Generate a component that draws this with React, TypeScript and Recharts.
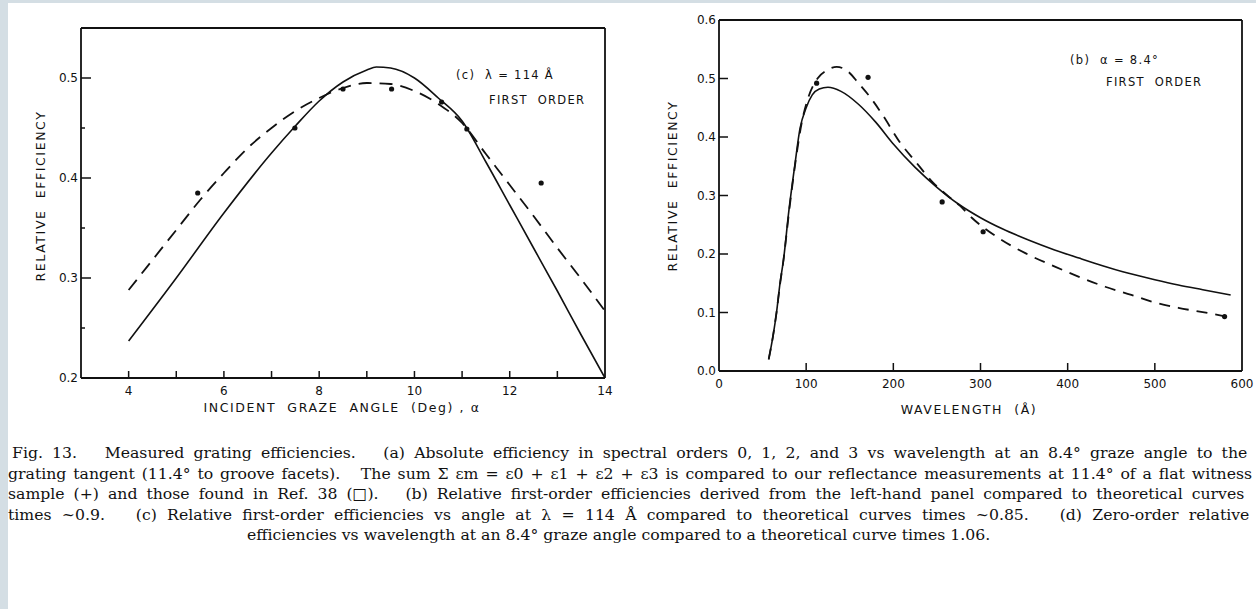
import React from 'react';
import { ComposedChart, Line, Scatter, XAxis, YAxis } from 'recharts';

// panel (c): relative efficiency vs incident graze angle, lambda = 114 A
const angleTicks = [4, 5, 6, 7, 8, 9, 10, 11, 12, 13, 14];
const angleLabels = [4, 6, 8, 10, 12, 14];
const angleEffTicks = [0.2, 0.25, 0.3, 0.35, 0.4, 0.45, 0.5];
const angleEffLabels = [0.2, 0.3, 0.4, 0.5];

const angleSolidX = [4, 5, 6, 7, 7.5, 8, 8.5, 9, 9.2, 9.5, 10, 10.5, 11, 11.5, 12, 12.5, 13, 13.5, 14];
const angleSolidY = [0.237, 0.3, 0.365, 0.425, 0.452, 0.477, 0.496, 0.508, 0.511, 0.51, 0.5, 0.48, 0.457, 0.416, 0.373, 0.33, 0.287, 0.243, 0.2];

const angleDashX = [4, 5, 5.5, 6, 6.5, 7, 7.5, 8, 8.5, 9, 9.5, 10, 10.5, 11, 11.5, 12, 12.5, 13, 13.5, 14];
const angleDashY = [0.288, 0.348, 0.378, 0.405, 0.43, 0.45, 0.467, 0.48, 0.49, 0.495, 0.494, 0.487, 0.474, 0.455, 0.424, 0.393, 0.362, 0.33, 0.299, 0.267];

const anglePointX = [5.45, 7.49, 8.5, 9.52, 10.57, 11.1, 12.66];
const anglePointY = [0.385, 0.45, 0.489, 0.489, 0.476, 0.449, 0.395];

// panel (b): relative efficiency vs wavelength, alpha = 8.4 deg
const waveTicks = [0, 100, 200, 300, 400, 500, 600];
const waveEffTicks = [0, 0.1, 0.2, 0.3, 0.4, 0.5, 0.6];

const waveSolidX = [57, 62, 66, 70, 74, 80, 87, 93, 100, 107, 115, 125, 140, 160, 180, 200, 225, 250, 275, 300, 325, 355, 385, 413, 440, 470, 500, 527, 555, 587];
const waveSolidY = [0.02, 0.06, 0.1, 0.15, 0.19, 0.272, 0.352, 0.415, 0.45, 0.472, 0.482, 0.485, 0.478, 0.456, 0.425, 0.388, 0.348, 0.314, 0.285, 0.262, 0.243, 0.224, 0.207, 0.193, 0.18, 0.167, 0.156, 0.147, 0.139, 0.13];

const waveDashX = [57, 62, 66, 70, 74, 81, 88, 95, 103, 113, 125, 135, 148, 160, 175, 188, 207, 226, 245, 262, 276, 290, 321, 352, 386, 413, 443, 473, 500, 527, 561, 585];
const waveDashY = [0.02, 0.06, 0.1, 0.148, 0.19, 0.28, 0.36, 0.425, 0.47, 0.5, 0.515, 0.52, 0.512, 0.492, 0.465, 0.437, 0.392, 0.357, 0.323, 0.3, 0.283, 0.262, 0.227, 0.201, 0.178, 0.161, 0.144, 0.13, 0.117, 0.108, 0.099, 0.092];

const wavePointX = [112, 171, 256, 303, 580];
const wavePointY = [0.492, 0.502, 0.289, 0.238, 0.093];

const captionLines = [
  'Fig. 13.   Measured grating efficiencies.   (a) Absolute efficiency in spectral orders 0, 1, 2, and 3 vs wavelength at an 8.4° graze angle to the',
  'grating tangent (11.4° to groove facets).   The sum Σ εm = ε0 + ε1 + ε2 + ε3 is compared to our reflectance measurements at 11.4° of a flat witness',
  'sample (+) and those found in Ref. 38 (□).   (b) Relative first-order efficiencies derived from the left-hand panel compared to theoretical curves',
  'times ~0.9.   (c) Relative first-order efficiencies vs angle at λ = 114 Å compared to theoretical curves times ~0.85.   (d) Zero-order relative',
  'efficiencies vs wavelength at an 8.4° graze angle compared to a theoretical curve times 1.06.',
];
// the scanned caption is justified, so the full lines get wider word gaps
const captionWordGap = [4.2, 1.9, 4.0, 5.3, 0];

const zip = (xs: number[], ys: number[]) => xs.map((x, i) => ({ x, y: ys[i] }));

const ink = '#111';
const tickFont = { fontFamily: '"DejaVu Sans", sans-serif', fontSize: 12, fill: ink };
const has = (list: number[], v: number) => list.some(l => Math.abs(l - v) < 1e-9);

const leftTick = (labels: number[], major: number, minor: number) => (p: any) => {
  const v = p.payload.value;
  const lab = has(labels, v);
  return (
    <g>
      <line x1={p.x} x2={p.x + (lab ? major : minor)} y1={p.y} y2={p.y} stroke={ink} strokeWidth={1.5} />
      {lab && (
        <text x={p.x - 3} y={p.y + 4} textAnchor="end" {...tickFont}>
          {v.toFixed(1)}
        </text>
      )}
    </g>
  );
};

const rightTick = (len: number, skip: number[]) => (p: any) =>
  has(skip, p.payload.value) ? <g /> : (
    <line x1={p.x} x2={p.x - len} y1={p.y} y2={p.y} stroke={ink} strokeWidth={1.5} />
  );

const bottomTick = (labels: number[], len: number, skip: number[]) => (p: any) => {
  const v = p.payload.value;
  return (
    <g>
      {!has(skip, v) && <line x1={p.x} x2={p.x} y1={p.y} y2={p.y - len} stroke={ink} strokeWidth={1.5} />}
      {has(labels, v) && (
        <text x={p.x} y={p.y + 17} textAnchor="middle" {...tickFont}>
          {v}
        </text>
      )}
    </g>
  );
};

const topTick = (len: number, skip: number[]) => (p: any) =>
  has(skip, p.payload.value) ? <g /> : (
    <line x1={p.x} x2={p.x} y1={p.y} y2={p.y + len} stroke={ink} strokeWidth={1.5} />
  );

const dot = (p: any) => <circle cx={p.cx} cy={p.cy} r={2.6} fill={ink} />;

const axisLine = { stroke: ink, strokeWidth: 1.8 };

const labelStyle: React.CSSProperties = {
  position: 'absolute',
  fontFamily: '"DejaVu Sans", sans-serif',
  fontSize: 12.5,
  letterSpacing: 1.6,
  color: ink,
  whiteSpace: 'pre',
  lineHeight: 1,
};

const noteStyle: React.CSSProperties = { ...labelStyle, fontSize: 11.5, letterSpacing: 1.3 };

export default function App() {
  return (
    <div
      style={{
        position: 'fixed',
        left: 0,
        top: 0,
        width: 1256,
        height: 609,
        overflow: 'hidden',
        background: '#fff',
      }}
    >
      <div style={{ position: 'absolute', left: 0, top: 0, width: 8, height: 609, background: '#d4dee4' }} />
      <div style={{ position: 'absolute', left: 0, top: 0, width: 1256, height: 3, background: '#d4dee4' }} />

      {/* panel (c) */}
      <div style={{ position: 'absolute', left: 0, top: 0 }}>
        <ComposedChart width={640} height={430} margin={{ top: 18, right: 25, bottom: 22, left: 41 }}>
          <XAxis
            xAxisId="b" type="number" dataKey="x" domain={[3, 14]} ticks={angleTicks} interval={0}
            height={30} tickSize={0} tickMargin={0} tickLine={false} axisLine={axisLine}
            tick={bottomTick(angleLabels, 7, [14])} allowDataOverflow
          />
          <XAxis
            xAxisId="t" orientation="top" type="number" domain={[3, 14]} ticks={angleTicks.slice(0, -1)} interval={0}
            height={10} tickSize={0} tickMargin={0} tickLine={false} axisLine={axisLine} tick={topTick(7, [])}
          />
          <YAxis
            yAxisId="l" type="number" dataKey="y" domain={[0.2, 0.55]} ticks={angleEffTicks} interval={0}
            width={40} tickSize={0} tickMargin={0} tickLine={false} axisLine={axisLine}
            tick={leftTick(angleEffLabels, 10, 4)} allowDataOverflow
          />
          <YAxis
            yAxisId="r" orientation="right" type="number" domain={[0.2, 0.55]} ticks={angleEffTicks} interval={0}
            width={10} tickSize={0} tickMargin={0} tickLine={false} axisLine={axisLine} tick={rightTick(7, [0.2])}
          />
          <Line
            xAxisId="b" yAxisId="l" data={zip(angleSolidX, angleSolidY)} dataKey="y" type="monotone"
            stroke={ink} strokeWidth={1.6} dot={false} isAnimationActive={false}
          />
          <Line
            xAxisId="b" yAxisId="l" data={zip(angleDashX, angleDashY)} dataKey="y" type="monotone"
            stroke={ink} strokeWidth={1.8} strokeDasharray="13 8" dot={false} isAnimationActive={false}
          />
          <Scatter
            xAxisId="b" yAxisId="l" data={zip(anglePointX, anglePointY)} dataKey="y"
            shape={dot} isAnimationActive={false}
          />
        </ComposedChart>
      </div>

      {/* panel (b) */}
      <div style={{ position: 'absolute', left: 640, top: 0 }}>
        <ComposedChart width={616} height={430} margin={{ top: 10, right: 4, bottom: 29, left: 39 }}>
          <XAxis
            xAxisId="b" type="number" dataKey="x" domain={[0, 600]} ticks={waveTicks} interval={0}
            height={30} tickSize={0} tickMargin={0} tickLine={false} axisLine={axisLine}
            tick={bottomTick(waveTicks, 8, [0, 600])} allowDataOverflow
          />
          <XAxis
            xAxisId="t" orientation="top" type="number" domain={[0, 600]} ticks={waveTicks} interval={0}
            height={10} tickSize={0} tickMargin={0} tickLine={false} axisLine={axisLine} tick={topTick(8, [0, 600])}
          />
          <YAxis
            yAxisId="l" type="number" dataKey="y" domain={[0, 0.6]} ticks={waveEffTicks} interval={0}
            width={40} tickSize={0} tickMargin={0} tickLine={false} axisLine={axisLine}
            tick={leftTick(waveEffTicks, 9, 9)} allowDataOverflow
          />
          <YAxis
            yAxisId="r" orientation="right" type="number" domain={[0, 0.6]} ticks={waveEffTicks} interval={0}
            width={10} tickSize={0} tickMargin={0} tickLine={false} axisLine={axisLine} tick={rightTick(7, [0, 0.6])}
          />
          <Line
            xAxisId="b" yAxisId="l" data={zip(waveSolidX, waveSolidY)} dataKey="y" type="monotone"
            stroke={ink} strokeWidth={1.6} dot={false} isAnimationActive={false}
          />
          <Line
            xAxisId="b" yAxisId="l" data={zip(waveDashX, waveDashY)} dataKey="y" type="monotone"
            stroke={ink} strokeWidth={1.8} strokeDasharray="11 8" dot={false} isAnimationActive={false}
          />
          <Scatter
            xAxisId="b" yAxisId="l" data={zip(wavePointX, wavePointY)} dataKey="y"
            shape={dot} isAnimationActive={false}
          />
        </ComposedChart>
      </div>

      {/* axis titles and annotations */}
      <div style={{ ...labelStyle, left: 342, top: 402, transform: 'translateX(-50%)' }}>
        {'INCIDENT  GRAZE  ANGLE  (Deg) , α'}
      </div>
      <div style={{ ...labelStyle, left: 41, top: 196, transform: 'translate(-50%, -50%) rotate(-90deg)' }}>
        {'RELATIVE  EFFICIENCY'}
      </div>
      <div style={{ ...noteStyle, left: 456, top: 70 }}>{'(c)  λ = 114 Å'}</div>
      <div style={{ ...noteStyle, left: 489, top: 95 }}>{'FIRST  ORDER'}</div>

      <div style={{ ...labelStyle, left: 969, top: 404, transform: 'translateX(-50%)' }}>
        {'WAVELENGTH  (Å)'}
      </div>
      <div style={{ ...labelStyle, left: 673, top: 186, transform: 'translate(-50%, -50%) rotate(-90deg)' }}>
        {'RELATIVE  EFFICIENCY'}
      </div>
      <div style={{ ...noteStyle, left: 1070, top: 55 }}>{'(b)  α = 8.4°'}</div>
      <div style={{ ...noteStyle, left: 1106, top: 77 }}>{'FIRST  ORDER'}</div>

      {/* caption */}
      {captionLines.map((t, i) => (
        <div
          key={i}
          style={{
            position: 'absolute',
            left: i === 0 ? 12 : i === 4 ? 247 : 8,
            top: 443 + i * 20.5,
            fontFamily: '"DejaVu Serif", serif',
            fontSize: 15.7,
            lineHeight: '20px',
            wordSpacing: captionWordGap[i],
            whiteSpace: 'pre',
            color: '#111',
          }}
        >
          {t}
        </div>
      ))}
    </div>
  );
}
